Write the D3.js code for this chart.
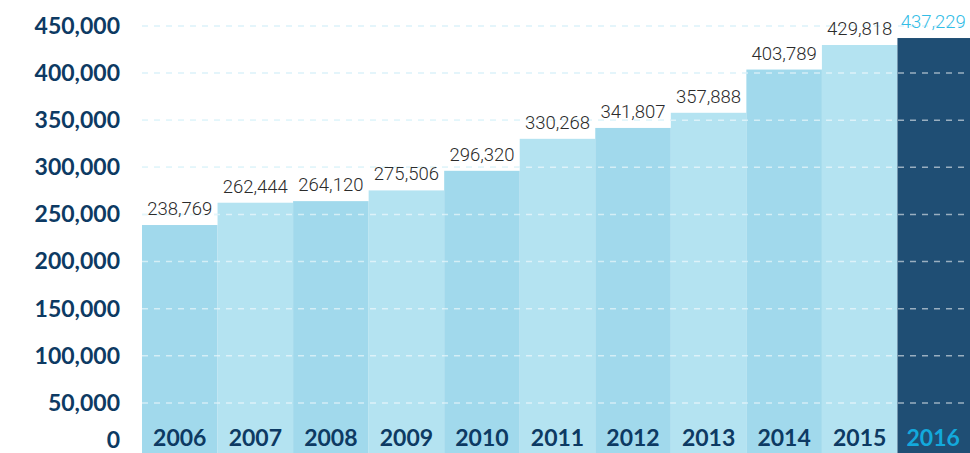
<!DOCTYPE html>
<html lang="en">
<head>
  <meta charset="UTF-8">
  <title>Yearly totals 2006-2016</title>
  <style>
    body { margin: 0; background: #fff; }
    .y-axis text { font-family: Lato, "Open Sans", sans-serif; font-weight: 700; font-size: 23px; fill: #0d3a63; }
    .year { font-family: Lato, "Open Sans", sans-serif; font-weight: 700; font-size: 23px; }
    .val { font-family: Roboto, sans-serif; font-weight: 300; font-size: 18.5px; }
  </style>
</head>
<body>
  <svg class="chart"></svg>
  <script src="https://cdn.jsdelivr.net/npm/d3@7"></script>
  <script>
    var years = ['2006', '2007', '2008', '2009', '2010', '2011', '2012', '2013', '2014', '2015', '2016'];
    var totals = [238769, 262444, 264120, 275506, 296320, 330268, 341807, 357888, 403789, 429818, 437229];
    var yTicks = [0, 50000, 100000, 150000, 200000, 250000, 300000, 350000, 400000, 450000];

    var svgWidth = 970, svgHeight = 453;
    var left = 142, right = 973, zeroY = 450, topY = 26;

    var svg = d3.select('svg')
      .attr('width', svgWidth)
      .attr('height', svgHeight);

    var xScale = d3.scaleBand()
      .domain(years)
      .range([left, right])
      .padding(0);

    var yScale = d3.scaleLinear()
      .domain([0, 450000])
      .range([zeroY, topY]);

    var last = years[years.length - 1];
    var fmt = d3.format(',');

    // grid behind bars (shows on white)
    svg.append('g').selectAll('line')
      .data(yTicks.slice(1))
      .enter().append('line')
      .attr('x1', left).attr('x2', svgWidth)
      .attr('y1', d => yScale(d)).attr('y2', d => yScale(d))
      .attr('stroke', '#c2eaf6')
      .attr('stroke-width', 1.5)
      .attr('stroke-dasharray', '6,6');

    svg.append('g').selectAll('rect')
      .data(totals)
      .enter().append('rect')
      .attr('x', (d, i) => xScale(years[i]))
      .attr('width', xScale.bandwidth())
      .attr('y', d => yScale(d))
      .attr('height', d => svgHeight - yScale(d))
      .attr('fill', (d, i) => years[i] === last ? '#1f4e74' : (i % 2 ? '#b4e3f1' : '#a1d9ec'));

    // grid on top of bars (whitish)
    svg.append('g').selectAll('line')
      .data(yTicks.slice(1))
      .enter().append('line')
      .attr('x1', left).attr('x2', svgWidth)
      .attr('y1', d => yScale(d)).attr('y2', d => yScale(d))
      .attr('stroke', '#ffffff')
      .attr('stroke-opacity', 0.55)
      .attr('stroke-width', 1.5)
      .attr('stroke-dasharray', '6,6');

    var yAxis = d3.axisLeft(yScale)
      .tickValues(yTicks)
      .tickFormat(fmt)
      .tickSize(0)
      .tickPadding(22);

    var yg = svg.append('g')
      .attr('class', 'y-axis')
      .attr('transform', `translate(${left}, 0)`)
      .call(yAxis);
    yg.select('.domain').remove();
    // "0" sits a bit above the baseline so it stays inside the picture
    yg.selectAll('.tick').filter(d => d === 0)
      .attr('transform', 'translate(0, 441)');

    svg.append('g').selectAll('text')
      .data(totals)
      .enter().append('text')
      .attr('class', 'val')
      .attr('x', (d, i) => xScale(years[i]) + xScale.bandwidth() / 2 - (years[i] === last ? 2 : 0))
      .attr('y', d => yScale(d) - 10)
      .attr('text-anchor', 'middle')
      .attr('fill', (d, i) => years[i] === last ? '#33bde6' : '#2b2b2b')
      .text(d => fmt(d));

    svg.append('g').selectAll('text')
      .data(years)
      .enter().append('text')
      .attr('class', 'year')
      .attr('x', d => xScale(d) + xScale.bandwidth() / 2 - (d === last ? 2 : 0))
      .attr('y', 446)
      .attr('text-anchor', 'middle')
      .attr('fill', d => d === last ? '#13a9dc' : '#0d3a63')
      .text(d => d);
  </script>
</body>
</html>
